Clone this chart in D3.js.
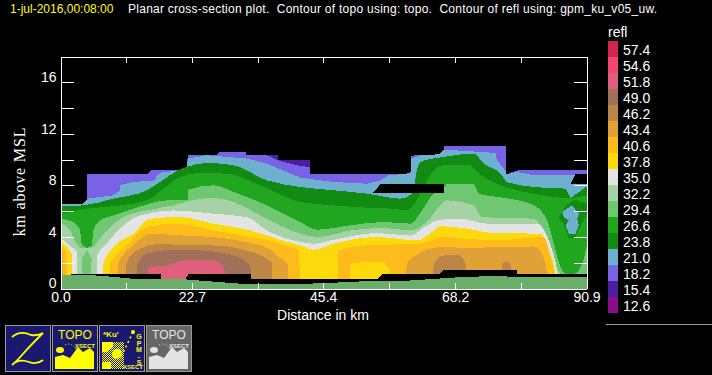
<!DOCTYPE html>
<html lang="en">
<head>
<meta charset="UTF-8">
<script src="https://cdn.jsdelivr.net/npm/d3@7"></script>
<title>refl xsect</title>
<style>
    html, body { margin: 0; background: #000; overflow: hidden; }
    text { font-family: "Liberation Sans", sans-serif; fill: #fff; }
    .band { shape-rendering: crispEdges; }
</style>
</head>
<body>
<div id="container"></div>
<script>
// legend
var legendLabels = ["57.4","54.6","51.8","49.0","46.2","43.4","40.6","37.8","35.0","32.2","29.4","26.6","23.8","21.0","18.2","15.4","12.6"]
var legendColors = ["#d0274c","#f4476f","#de607a","#a0705a","#bb8647","#e0a237","#fdbc1b","#fcd90b","#e4e4e4","#a5d3a5","#70c771","#20a71f","#128b12","#6db0cf","#7a62e6","#4b1f9e","#8a0e8c"]

// upper edge of each reflectivity level, [km along section, km MSL]
var top154 = [[0,6.58],[3.95,6.58],[4.64,6.97],[4.64,8.86],[14.9,8.86],[15.77,9.17],[21.82,9.17],[22,10.34],[27.01,10.34],[27.59,10.62],[32.09,10.62],[32.09,10.34],[37.51,10.34],[37.51,9.95],[43.16,9.95],[43.16,8.86],[56.7,8.86],[60.63,8.9],[60.63,10.31],[65.36,10.41],[66.23,10.78],[66.23,11.04],[77.06,11.04],[77.06,8.86],[78.91,9.17],[90.9,9.17]]
var top182 = [[0,6.58],[3.95,6.58],[4.64,6.97],[4.64,8.86],[14.9,8.86],[15.77,9.17],[21.82,9.17],[22,10.34],[27.01,10.34],[27.59,10.62],[32.09,10.62],[32.09,10.34],[35.66,10.34],[37.51,9.95],[41.43,9.5],[43.16,9.43],[43.16,8.86],[56.7,8.86],[60.63,8.9],[60.63,10.31],[65.36,10.41],[66.23,10.78],[66.23,11.04],[77.06,11.04],[77.06,8.86],[78.91,9.17],[90.9,9.17]]
var top210 = [[0,6.58],[3.95,6.58],[4.64,6.97],[9.14,7.23],[9.72,7.45],[10.29,7.6],[10.3,8.01],[12.6,8.26],[16.35,8.39],[16.63,8.78],[17.79,9.04],[21.82,9.17],[22,10.08],[25.28,10.34],[32.2,10.08],[35.66,9.69],[41.43,8.6],[47.2,8.26],[52.96,8.13],[55.26,8.39],[56.7,8.78],[59.88,8.91],[60.63,9.04],[60.63,10.08],[62.19,10.34],[65.36,10.41],[66.23,10.78],[75.16,10.52],[75.45,9.95],[77.06,9.04],[77.06,8.86],[78.91,9.04],[81.79,8.78],[90.9,8.86]]
var top238 = [[0,6.37],[3.95,6.45],[9.14,6.97],[14.9,7.62],[17.21,8.26],[20.09,9.12],[21.82,9.43],[25.28,9.74],[29.9,9.56],[35.66,8.39],[41.43,7.88],[47.2,7.62],[52.96,7.36],[58.72,6.97],[61.3,7.6],[61.3,8.45],[62.19,9.82],[66.23,10.21],[71.41,10.47],[73.14,9.69],[76.03,8.91],[77.18,8.26],[81.79,7.88],[87.56,7.75],[90.9,7.88]]
var top266 = [[0,5.8],[4.53,6.19],[10.29,6.45],[14.9,6.84],[17.79,7.75],[20.67,8.65],[24.13,8.96],[28.74,8.91],[35.09,7.88],[41.43,6.71],[47.2,6.45],[52.96,6.27],[57.56,6.19],[59.88,6.06],[62.19,7.36],[64.49,9.17],[66.23,9.56],[70.83,9.56],[71.99,9.04],[76.03,8.01],[81.79,7.36],[87.56,7],[90.9,7.23]]
var top294 = [[0,5.41],[2.15,5.16],[3.37,4.51],[3.66,3.47],[4.53,3.16],[5.39,3.34],[5.68,4.51],[6.83,5.28],[9.14,5.67],[12.6,6.19],[18.36,6.84],[22.11,6.9],[22.11,7.67],[26.44,8.01],[29.9,7.49],[35.66,6.45],[41.43,5.16],[44.31,4.56],[50.09,4.9],[55.83,5.16],[60.46,5.03],[62.47,6.06],[64.49,7.36],[66.23,7.75],[66.8,8.13],[71.41,8.13],[72.27,7.36],[77.18,7],[81.79,6.45],[84.1,5.28],[85.25,3.47],[86.69,1.4],[87.56,1.14],[88.83,1.14],[90.15,1.92],[90.9,3.21]]
var top322 = [[0,5.03],[1.64,4.51],[2.74,3.47],[3.37,3.16],[5.39,3.16],[6.54,3.73],[7.99,4.51],[11.45,5.67],[14.9,6.06],[19.52,6.45],[22.69,6.84],[26.44,7.02],[29.9,6.71],[35.66,5.41],[41.43,4.25],[44.31,3.99],[50.09,4.5],[55.83,4.7],[60.46,4.5],[63.34,5.2],[65.65,6.45],[66.8,6.84],[71.41,6.45],[72.85,5.54],[81.79,5.41],[83.52,4.25],[84.96,1.92],[86.4,1.14],[86.69,0]]
var top350 = [[0,3.91],[1.93,3.21],[2.91,2.82],[2.91,0],[6.26,0],[6.26,2.44],[7.99,3.47],[10.87,4.9],[13.75,5.67],[19.52,6.06],[26.44,5.8],[32.2,5.54],[35.66,4.51],[41.43,3.62],[43.74,3.47],[47.2,3.78],[54.69,4.3],[60.46,4.1],[63,4.8],[65.65,5.34],[69.1,5.41],[73.72,5.03],[82.37,5.03],[84.39,3.73],[85.83,1.4],[86.29,0]]
var top378 = [[0,3.6],[1.93,2.69],[1.93,0],[7.41,0],[7.41,1.92],[9.14,3.21],[12.6,4.25],[15.48,5.41],[20.67,5.54],[26.44,5.03],[32.78,4.51],[37.97,3.78],[41.43,3.34],[43.74,3.01],[47.2,3.47],[54.69,3.99],[61.6,3.73],[64.2,4.38],[65.65,4.84],[70.26,4.64],[74.87,4.3],[82.95,4.25],[84.39,2.95],[85.54,1.14],[85.6,0]]
var top406 = [[0,3.34],[1.07,2.82],[1.07,0],[8.56,0],[8.56,1.92],[10.87,3.08],[14.9,4.77],[20.09,5.03],[26.44,4.51],[32.78,4],[38,3.5],[39.2,3.3],[41.2,3],[41.43,0],[47.77,0],[48,2.44],[48,2.95],[52.96,3.34],[61.6,3.47],[63.34,3.6],[65.65,3.99],[74.87,3.73],[83.52,3.99],[84.67,2.44],[85.25,1.14],[85.3,0]]
var top434 = [[0,2.82],[0.5,2.7],[0.5,0],[9.72,0],[10,1.92],[12.6,3.34],[15.48,4.25],[20.67,4.12],[26.44,3.99],[32.2,3.6],[36.53,2.95],[37.68,2.44],[39.24,1.92],[39.24,0],[59.6,0],[59.88,2.05],[65.65,3.21],[70.26,3.16],[81.79,3.26],[83.23,2.69],[84.1,1.14],[84.1,0]]
var top462 = [[11.16,0],[11.45,2.05],[13.18,2.95],[17.21,3.47],[21.82,3.34],[26.44,3.34],[32.2,2.95],[35.66,2.31],[36.53,2],[36.53,0],[64.37,0],[64.49,1.92],[66.23,2.56],[68.53,2.64],[69.97,2.05],[70.15,0],[76.2,0],[76.31,1.92],[77.06,2.1],[77.87,1.79],[77.99,0]]
var top490 = [[13.06,0],[13.29,1.92],[14.9,2.69],[19.52,3.01],[24.13,2.95],[28.74,2.69],[32.2,2.05],[32.9,1.5],[32.9,0]]
var top518 = [[15.08,0],[15.19,1.66],[18.36,1.79],[21.82,2.23],[26.44,2.23],[27.88,1.79],[28.46,1.09],[28.46,0]]

// pockets that do not fit the nested edges
var pocket294 = [[3.8,1.09],[3.66,2.3],[4.6,2.95],[5.4,2.3],[5.2,1.09]]
var pocket378 = [[50.09,0.7],[50.09,1.92],[52.96,2.1],[55.83,2.05],[57,1.4],[57,0.7]]
var pocket238 = [[86,5.5],[87.5,6.5],[88.8,6.9],[90.9,6.6],[90.9,5.7],[89.8,4.8],[88.9,3.9],[87.8,3.9],[87,5]]
var pocket210a = [[86.7,5.93],[88.42,6.45],[89.58,5.8],[89.29,5.41],[89.58,4.9],[89,4.25],[87.85,4.25],[87.27,4.9],[87.85,5.28],[86.98,5.54]]
var pocket210b = [[87.3,7.75],[88.13,7],[89,7.3],[90.9,7.9],[90.9,8.2],[87.85,8]]

// no data
var hole1 = [[54,7.41],[55.26,8.08],[66.23,8.08],[66.23,7.41]]
var hole2 = [[88.13,8.08],[89,8.86],[90.9,8.86],[90.9,8.08]]

var radarBase = [[0,0],[1.8,0],[1.85,1.09],[17.38,1.09],[17.38,0.7],[21.54,0.7],[22.11,1.09],[32.9,1.09],[32.9,0.7],[54.69,0.7],[55.5,1.09],[65.36,1.09],[66.23,1.45],[78.91,1.45],[78.91,1.09],[90.9,1.09]]
var terrain = [[0,1.09],[6.83,1],[12.6,0.75],[21.82,0.7],[27.59,0.49],[31.6,0.36],[34.5,0.31],[41.43,0.36],[45.46,0.41],[52.96,0.57],[60.46,0.62],[69.1,0.88],[74.3,0.96],[81.79,0.88],[90.9,0.88]]

var xTicks = [0,11.35,22.7,34.05,45.4,56.8,68.2,79.55,90.9]
var xLabelled = [0,22.7,45.4,68.2,90.9]
var yTicks = [0,2,4,6,8,10,12,14,16]
var yLabelled = [0,4,8,12,16]

// little hill outlines for the two TOPO buttons, button pixels
var iconHill = [[3,44],[3,32],[11,30],[18,33],[26,22],[31,27],[38,23],[42,27],[42,44]]

var svg = d3.select("#container").append("svg")
    .attr("width", 712)
    .attr("height", 375)
    .style("display", "block")
    .style("background", "#000")

var scaleX = d3.scaleLinear().domain([0, 90.9]).range([60.5, 586.5])
var scaleY = d3.scaleLinear().domain([0, 18]).range([288.5, 56.5])

var areaGen = d3.area()
    .x(function (d) { return scaleX(d[0]) })
    .y0(scaleY(0))
    .y1(function (d) { return scaleY(d[1]) })
var smoothGen = d3.area()
    .x(function (d) { return scaleX(d[0]) })
    .y0(scaleY(0))
    .y1(function (d) { return scaleY(d[1]) })
    .curve(d3.curveMonotoneX)
var lineGen = d3.line()
    .x(function (d) { return scaleX(d[0]) })
    .y(function (d) { return scaleY(d[1]) })
    .curve(d3.curveLinearClosed)

function color(label) { return legendColors[legendLabels.indexOf(label)] }
function drawArea(pts, fill) { svg.append("path").attr("class", "band").attr("d", areaGen(pts)).attr("fill", fill) }
function drawSmooth(pts, fill) { svg.append("path").attr("class", "band").attr("d", smoothGen(pts)).attr("fill", fill) }
function drawPoly(pts, fill) { svg.append("path").attr("class", "band").attr("d", lineGen(pts)).attr("fill", fill) }

drawArea(top154, color("15.4"))
drawArea(top182, color("18.2"))
drawArea(top210, color("21.0"))
drawSmooth(top238, color("23.8"))
drawSmooth(top266, color("26.6"))
drawSmooth(top294, color("29.4"))
drawPoly(pocket238, color("23.8"))
drawPoly(pocket210a, color("21.0"))
drawPoly(pocket210b, color("21.0"))
drawSmooth(top322, color("32.2"))
drawPoly(pocket294, color("29.4"))
drawSmooth(top350, color("35.0"))
drawSmooth(top378, color("37.8"))
drawSmooth(top406, color("40.6"))
drawPoly(pocket378, color("37.8"))
drawSmooth(top434, color("43.4"))
drawSmooth(top462, color("46.2"))
drawSmooth(top490, color("49.0"))
drawSmooth(top518, color("51.8"))
drawArea(radarBase, "#000")
drawArea(terrain, "#69ae69")
drawPoly(hole1, "#000")
drawPoly(hole2, "#000")

// frame + ticks
function styleAxis(g) {
    g.selectAll("path,line").attr("stroke", "#fff").attr("shape-rendering", "crispEdges")
    g.selectAll("text").attr("fill", "#fff").style("font-size", "14px")
}
var fmtX = function (d) { return xLabelled.indexOf(d) >= 0 ? d.toFixed(1) : "" }
var fmtY = function (d) { return yLabelled.indexOf(d) >= 0 ? d : "" }
svg.append("g").attr("transform", "translate(0,288.5)")
    .call(d3.axisBottom(scaleX).tickValues(xTicks).tickSize(-6).tickSizeOuter(0).tickPadding(4).tickFormat(fmtX))
    .call(styleAxis)
svg.append("g").attr("transform", "translate(0,56.5)")
    .call(d3.axisTop(scaleX).tickValues(xTicks).tickSize(-6).tickSizeOuter(0).tickFormat(""))
    .call(styleAxis)
var yAxisG = svg.append("g").attr("transform", "translate(60.5,0)")
    .call(d3.axisLeft(scaleY).tickValues(yTicks).tickSize(-13).tickSizeOuter(0).tickPadding(4).tickFormat(fmtY))
    .call(styleAxis)
yAxisG.selectAll("text").attr("dy", "-0.06em")
svg.append("g").attr("transform", "translate(586.5,0)")
    .call(d3.axisRight(scaleY).tickValues(yTicks).tickSize(-13).tickSizeOuter(0).tickFormat(""))
    .call(styleAxis)

// titles
svg.append("text").attr("x", 10).attr("y", 13).style("font-size", "12px").style("fill", "#ffff00").text("1-jul-2016,00:08:00")
svg.append("text").attr("x", 128).attr("y", 13).style("font-size", "12px").style("white-space", "pre")
    .attr("textLength", 529).text("Planar cross-section plot.  Contour of topo using: topo.  Contour of refl using: gpm_ku_v05_uw.")
svg.append("text").attr("x", 323).attr("y", 320).attr("text-anchor", "middle").style("font-size", "14px").text("Distance in km")
svg.append("text").attr("transform", "translate(25,182) rotate(-90)").attr("text-anchor", "middle")
    .style("font-size", "16px").style("font-family", "'Liberation Serif', serif")
    .attr("textLength", 109).text("km above MSL")

// legend
svg.append("text").attr("x", 608).attr("y", 37).style("font-size", "14px").text("refl")
var legendY = d3.scaleBand().domain(legendLabels).range([41, 313])
svg.selectAll("rect.swatch").data(legendLabels).join("rect")
    .attr("class", "swatch")
    .attr("x", 608).attr("width", 10)
    .attr("y", function (d) { return legendY(d) })
    .attr("height", legendY.bandwidth())
    .attr("fill", function (d) { return color(d) })
svg.selectAll("text.lab").data(legendLabels).join("text")
    .attr("class", "lab")
    .attr("x", 623)
    .attr("y", function (d) { return legendY(d) + 14 })
    .style("font-size", "14px")
    .text(function (d) { return d })
svg.append("line").attr("x1", 606).attr("x2", 712).attr("y1", 324.5).attr("y2", 324.5).attr("stroke", "#999")

// buttons under the plot
var defs = svg.append("defs")
defs.append("pattern").attr("id", "dither").attr("width", 2).attr("height", 2).attr("patternUnits", "userSpaceOnUse")
    .call(function (p) {
        p.append("rect").attr("width", 1).attr("height", 1).attr("fill", "#ffff00").attr("shape-rendering", "crispEdges")
        p.append("rect").attr("x", 1).attr("y", 1).attr("width", 1).attr("height", 1).attr("fill", "#ffff00").attr("shape-rendering", "crispEdges")
    })

var iconX = [5, 52, 99, 146]
var icons = svg.selectAll("g.icon").data(iconX).join("g").attr("class", "icon")
    .attr("transform", function (d) { return "translate(" + d + ",325)" })
icons.append("rect").attr("x", 0.5).attr("y", 0.5).attr("width", 45).attr("height", 46)
    .attr("fill", function (d, i) { return i == 3 ? "#666" : "#191970" })
    .attr("stroke", "#999")

var hillLine = d3.line().curve(d3.curveLinearClosed)
icons.filter(function (d, i) { return i == 0 }).append("path")
    .attr("d", "M7,12 Q15,5 26,10 Q33,11 38,8 Q24,22 17,30 Q12,36 7,40 Q14,33 24,37 Q32,40 38,35")
    .attr("fill", "none").attr("stroke", "#ffff00").attr("stroke-width", 1.8)
icons.filter(function (d, i) { return i == 1 || i == 3 }).each(function (d, i) {
    var c = i == 0 ? "#ffff00" : "#e4e4e4"
    var g = d3.select(this)
    g.append("text").attr("x", 23).attr("y", 14).attr("text-anchor", "middle").style("font-size", "12px").style("fill", c).text("TOPO")
    g.append("text").attr("x", 43).attr("y", 23).attr("text-anchor", "end").style("font-size", "6px").style("font-weight", "bold").style("fill", c).text("XSECT")
    g.append("path").attr("d", hillLine(iconHill)).attr("fill", c)
    g.append("ellipse").attr("cx", 8).attr("cy", 25).attr("rx", 4).attr("ry", 3).attr("fill", c)
    g.append("path").attr("d", "M13,20 Q20,17 24,24").attr("fill", "none").attr("stroke", c).attr("stroke-dasharray", "1 2")
})
var ku = icons.filter(function (d, i) { return i == 2 })
ku.append("text").attr("x", 4).attr("y", 12).style("font-size", "8px").style("font-weight", "bold").style("fill", "#ffff00").text("*Ku'")
ku.append("rect").attr("x", 3).attr("y", 17).attr("width", 22).attr("height", 27).attr("fill", "url(#dither)")
ku.append("path").attr("d", "M3,17 H14 V22 L8,27 H3 Z").attr("fill", "#ffff00")
ku.append("circle").attr("cx", 18).attr("cy", 29).attr("r", 5).attr("fill", "#ffff00")
ku.append("rect").attr("x", 3).attr("y", 37).attr("width", 9).attr("height", 7).attr("fill", "#ffff00")
ku.append("path").attr("d", "M34,7 L23,30").attr("stroke", "#ffff00").attr("stroke-dasharray", "2 3").attr("stroke-width", 1.5)
ku.append("circle").attr("cx", 34).attr("cy", 7).attr("r", 2).attr("fill", "#ffff00")
ku.append("text").attr("x", 44).attr("y", 44).attr("text-anchor", "end").style("font-size", "6px").style("font-weight", "bold").style("fill", "#ffff00").text("XSECT")
ku.append("text").attr("x", 40).attr("y", 8)
    .style("writing-mode", "vertical-rl").style("text-orientation", "upright")
    .style("font-size", "7px").style("font-weight", "bold").style("fill", "#ffff00")
    .style("letter-spacing", "-0.5px").text("GPM-S")
</script>
</body>
</html>
